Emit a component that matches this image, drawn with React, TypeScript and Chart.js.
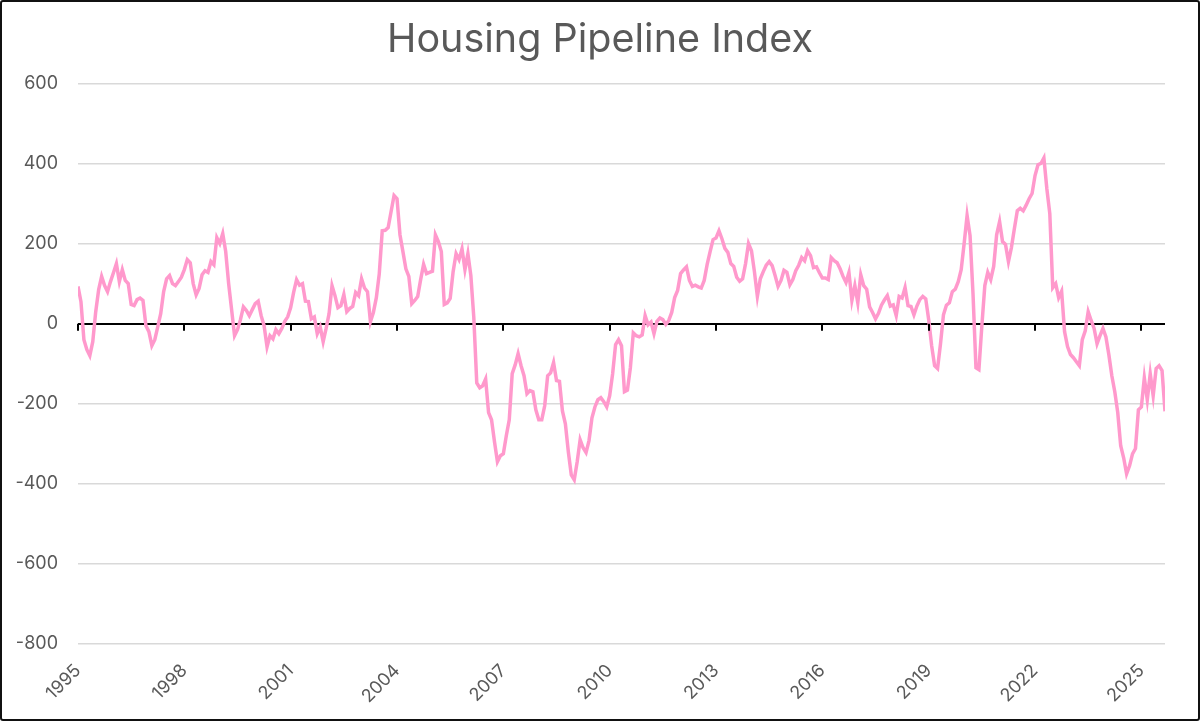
import { useEffect, useRef } from 'react'
import { Chart, registerables } from 'chart.js'

Chart.register(...registerables)

// monthly index values, Jan 1995 onwards
const startYear = 1995
const xTickStep = 3
const yMin = -800
const yMax = 600
const yStep = 200

const indexValues = [
  93, 55, -40, -65, -80, -45, 30, 85, 118, 95,
  80, 105, 127, 150, 105, 135, 108, 100, 48, 45,
  60, 64, 58, -5, -20, -55, -40, -8, 25, 80,
  112, 120, 100, 95, 105, 116, 135, 160, 152, 100,
  72, 88, 122, 132, 128, 155, 147, 215, 200, 225,
  180, 100, 35, -30, -15, 10, 42, 33, 20, 35,
  50, 56, 20, -5, -58, -30, -38, -15, -25, -12,
  6, 17, 40, 78, 110, 96, 100, 56, 55, 12,
  17, -25, -8, -45, -12, 25, 95, 70, 40, 45,
  73, 30, 38, 43, 78, 70, 112, 89, 80, 5,
  28, 65, 125, 232, 233, 240, 280, 320, 312, 222,
  180, 137, 118, 50, 58, 68, 110, 148, 125, 128,
  131, 222, 205, 180, 48, 52, 63, 130, 175, 160,
  187, 135, 175, 120, 15, -148, -160, -155, -138, -222,
  -240, -295, -345, -330, -325, -280, -240, -125, -103, -75,
  -105, -130, -175, -167, -170, -215, -240, -240, -205, -130,
  -123, -97, -142, -144, -218, -250, -320, -378, -390, -345,
  -290, -310, -322, -292, -235, -208, -190, -185, -195, -208,
  -180, -125, -52, -40, -55, -170, -166, -110, -23, -30,
  -33, -28, 20, -3, 4, -25, 6, 14, 10, -2,
  8, 28, 65, 83, 125, 134, 142, 108, 93, 96,
  92, 89, 108, 148, 180, 210, 214, 232, 212, 188,
  178, 150, 143, 116, 106, 112, 150, 200, 182, 130,
  68, 112, 130, 146, 155, 145, 120, 93, 108, 133,
  128, 97, 110, 132, 146, 165, 157, 182, 170, 140,
  142, 127, 114, 114, 110, 165, 157, 152, 137, 118,
  103, 128, 58, 95, 52, 122, 95, 86, 42, 28,
  12, 26, 46, 59, 70, 44, 47, 20, 68, 64,
  90, 45, 43, 22, 44, 60, 68, 62, 10, -55,
  -105, -112, -50, 22, 46, 52, 80, 86, 105, 135,
  200, 270, 220, 75, -110, -115, -5, 95, 128, 110,
  143, 222, 255, 205, 198, 155, 190, 237, 282, 288,
  282, 296, 312, 325, 370, 397, 400, 414, 337, 275,
  90, 100, 65, 81, -20, -57, -77, -85, -95, -105,
  -40, -18, 30, 8, -12, -50, -30, -12, -33, -78,
  -130, -170, -222, -305, -335, -375, -355, -325, -312, -215,
  -208, -135, -190, -125, -180, -112, -105, -117, -219,
]

const FONT = 'Inter'
const TEXT = '#595959'

// little black ticks hanging under the zero line
const zeroTicks = {
  id: 'zeroTicks',
  afterDatasetsDraw(chart: any) {
    const { ctx, scales } = chart
    const x = scales.x
    const y0 = scales.y.getPixelForValue(0)
    ctx.save()
    ctx.strokeStyle = '#000'
    ctx.lineWidth = 2
    x.ticks.forEach((t: any) => {
      const px = Math.round(x.getPixelForValue(t.value))
      ctx.beginPath()
      ctx.moveTo(px, y0)
      ctx.lineTo(px, y0 + 7)
      ctx.stroke()
    })
    ctx.restore()
  },
}

export default function App() {
  const canvasRef = useRef<HTMLCanvasElement>(null)

  useEffect(() => {
    if (!canvasRef.current) return
    const points = indexValues.map((v, i) => ({ x: startYear + i / 12, y: v }))
    const chart = new Chart(canvasRef.current, {
      type: 'line',
      data: {
        datasets: [
          {
            label: 'Housing Pipeline Index',
            data: points,
            borderColor: '#ff99cc',
            borderWidth: 3.5,
            pointRadius: 0,
            tension: 0,
          },
        ],
      },
      options: {
        animation: false,
        responsive: true,
        maintainAspectRatio: false,
        // same padding both sides keeps the title centred on the canvas
        layout: { padding: { left: 12, right: 12, top: 0, bottom: 0 } },
        plugins: {
          legend: { display: false },
          tooltip: { enabled: false },
          title: {
            display: true,
            text: 'Housing Pipeline Index',
            color: TEXT,
            font: { family: FONT, size: 39.5, weight: 'normal' },
            padding: { top: 14, bottom: 20 },
          },
        },
        scales: {
          x: {
            type: 'linear',
            min: startYear,
            max: startYear + (indexValues.length - 1) / 12,
            grid: { display: false, drawTicks: false },
            border: { display: false },
            afterFit: (s: any) => {
              s.paddingLeft = 0
              s.paddingRight = 33
              s.height = 75
            },
            ticks: {
              stepSize: xTickStep,
              includeBounds: false,
              minRotation: 45,
              maxRotation: 45,
              padding: 16,
              color: TEXT,
              font: { family: FONT, size: 18 },
              callback: (v: any) => String(v),
            },
          },
          y: {
            min: yMin,
            max: yMax,
            afterFit: (s: any) => {
              s.width = 64
            },
            grid: {
              drawTicks: false,
              color: (c: any) => (c.tick && c.tick.value === 0 ? '#000' : '#d9d9d9'),
              lineWidth: (c: any) => (c.tick && c.tick.value === 0 ? 2 : 1.5),
            },
            border: { display: false },
            ticks: {
              stepSize: yStep,
              padding: 20,
              color: TEXT,
              font: { family: FONT, size: 18 },
            },
          },
        },
      },
      plugins: [zeroTicks],
    })
    return () => chart.destroy()
  }, [])

  return (
    <div
      style={{
        position: 'fixed',
        left: 0,
        top: 0,
        width: 1200,
        height: 721,
        boxSizing: 'border-box',
        border: '2px solid #111',
        borderRadius: 3,
        background: '#fff',
      }}
    >
      <div style={{ position: 'relative', width: '100%', height: '100%' }}>
        <canvas ref={canvasRef} />
      </div>
    </div>
  )
}
